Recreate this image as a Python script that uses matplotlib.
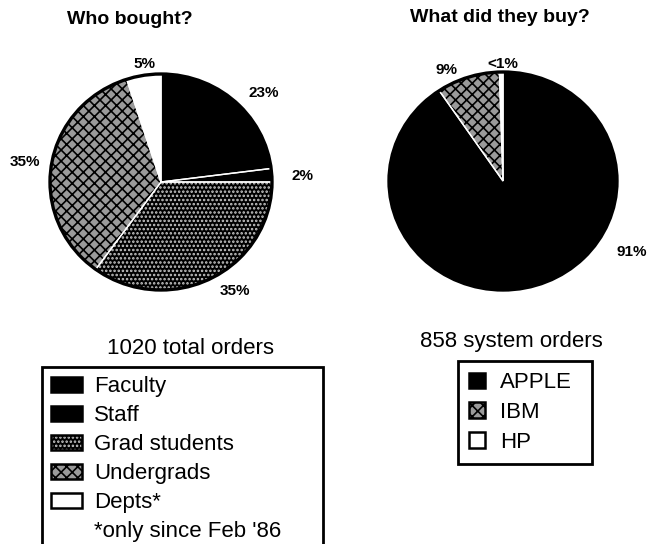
import numpy as np
import matplotlib.pyplot as plt
from matplotlib.patches import Patch, Circle

plt.rcParams['font.family'] = ['Liberation Sans', 'DejaVu Sans']
plt.rcParams['hatch.linewidth'] = 1.2

W, H = 648, 544

# who bought
who_labels = ["Faculty", "Staff", "Grad students", "Undergrads", "Depts*"]
who_pct = [23, 2, 35, 35, 5]
who_text = ["23%", "2%", "35%", "35%", "5%"]
who_total = "1020 total orders"
who_note = "*only since Feb '86"

# what did they buy
buy_labels = ["APPLE", "IBM", "HP"]
buy_pct = [91, 9, 0.5]
buy_text = ["91%", "9%", "<1%"]
buy_total = "858 system orders"

# fill styles: (face, hatch, hatch colour)
who_style = [("black", None, "black"),
             ("black", None, "black"),
             ("black", "....", "#c8c8c8"),
             ("#9a9a9a", "xxx", "black"),
             ("white", None, "white")]
buy_style = [("black", None, "black"),
             ("#9a9a9a", "xxx", "black"),
             ("white", None, "white")]


def pie_axes(fig, cx, cy, rx, ry, lim=1.6):
    ax = fig.add_axes([(cx - lim * rx) / W, 1 - (cy + lim * ry) / H,
                       2 * lim * rx / W, 2 * lim * ry / H])
    return ax, lim


def draw_pie(ax, lim, vals, styles, start, counterclock):
    wedges, _ = ax.pie(vals, startangle=start, counterclock=counterclock,
                       wedgeprops=dict(linewidth=0))
    for w, (fc, hatch, hc) in zip(wedges, styles):
        w.set_facecolor(fc)
        w.set_edgecolor(hc)
        if hatch:
            w.set_hatch(hatch)
    # thin white divider lines between slices
    ax.pie(vals, startangle=start, counterclock=counterclock,
           wedgeprops=dict(fill=False, edgecolor="white", linewidth=1.0))
    ax.add_patch(Circle((0, 0), 1, fill=False, edgecolor="black", linewidth=2.4))
    ax.set_aspect("auto")
    ax.set_xlim(-lim, lim)
    ax.set_ylim(-lim, lim)
    ax.axis("off")


def pct_labels(ax, texts, label_pos):
    for t, (ang, dist) in zip(texts, label_pos):
        a = np.deg2rad(ang)
        ax.text(dist * np.cos(a), dist * np.sin(a), t, ha="center", va="center",
                fontsize=11, fontweight="bold")


fig = plt.figure(figsize=(W / 100, H / 100), dpi=100)

# left pie
ax1, lim = pie_axes(fig, 161, 182, 111, 108)
draw_pie(ax1, lim, who_pct, who_style, 90, False)
pct_labels(ax1, who_text,
           [(41.7, 1.24), (2.5, 1.28), (-56.4, 1.21), (171.5, 1.24), (98, 1.1)])
fig.text(130 / W, 1 - 19 / H, "Who bought?", ha="center", va="center",
         fontsize=14, fontweight="bold")

# right pie
ax2, lim = pie_axes(fig, 503, 181, 114, 109)
draw_pie(ax2, lim, buy_pct[::-1], buy_style[::-1], 90, True)
pct_labels(ax2, buy_text, [(-30, 1.3), (116, 1.13), (90, 1.07)])
fig.text(500 / W, 1 - 17 / H, "What did they buy?", ha="center", va="center",
         fontsize=14, fontweight="bold")


def swatch(fc, hatch, hc):
    inner = Patch(facecolor=fc, edgecolor=hc, hatch=hatch, linewidth=0)
    border = Patch(fill=False, edgecolor="black", linewidth=1.8)
    return (inner, border)


# left legend
h1 = [swatch(*s) for s in who_style] + [Patch(alpha=0)]
fig.text(191 / W, 1 - 349 / H, who_total, ha="center", va="center", fontsize=16)
leg1 = fig.legend(h1, who_labels + [who_note], loc="upper left",
                  bbox_to_anchor=(42 / W, 0, 281 / W, 1 - 367 / H), mode="expand",
                  fontsize=16, handlelength=1.4, handleheight=0.65,
                  handletextpad=0.55, labelspacing=0.36, borderpad=0.4,
                  borderaxespad=0, fancybox=False, framealpha=1,
                  edgecolor="black")
leg1.get_frame().set_linewidth(2)

# right legend
h2 = [swatch(*s) for s in buy_style]
fig.text(511 / W, 1 - 341 / H, buy_total, ha="center", va="center", fontsize=16)
leg2 = fig.legend(h2, buy_labels, loc="upper left",
                  bbox_to_anchor=(458 / W, 0, 134 / W, 1 - 361 / H), mode="expand",
                  fontsize=16, handlelength=0.7, handleheight=0.7,
                  handletextpad=0.7, labelspacing=0.4, borderpad=0.5,
                  borderaxespad=0, fancybox=False, framealpha=1,
                  edgecolor="black")
leg2.get_frame().set_linewidth(2)

fig.savefig("out.png", dpi=100)
